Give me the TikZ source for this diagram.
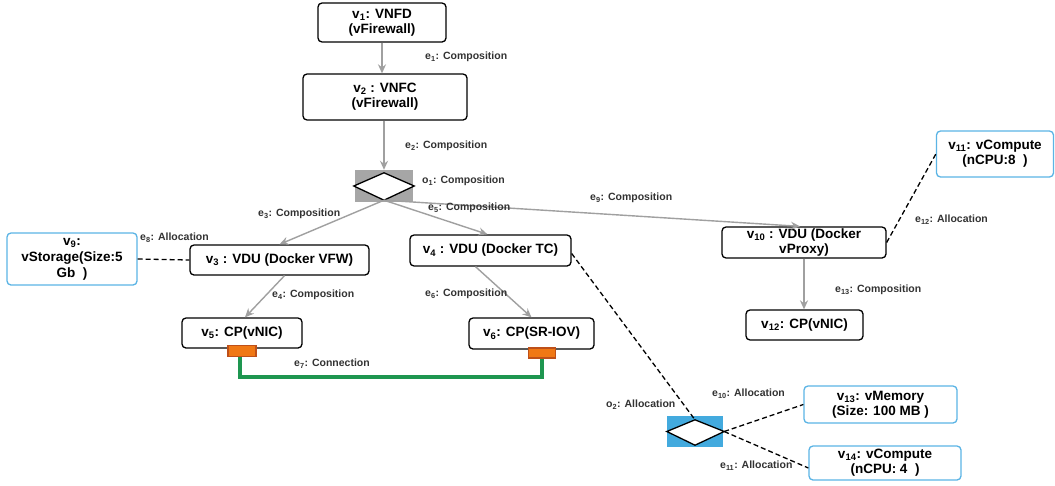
\documentclass[tikz,border=0pt]{standalone}
\usepackage{fontspec}
\setmainfont{Liberation Sans}
\usetikzlibrary{arrows.meta,calc}
\definecolor{arrgray}{RGB}{160,160,160}
\definecolor{boxblue}{RGB}{91,180,229}
\definecolor{o1gray}{RGB}{166,166,166}
\definecolor{o2blue}{RGB}{67,170,222}
\definecolor{portfill}{RGB}{240,120,20}
\definecolor{portdraw}{RGB}{190,80,25}
\definecolor{conngreen}{RGB}{30,150,80}
\newcommand{\sbs}[1]{\textsubscript{#1}}
\tikzset{
  box/.style={draw=black, line width=1.3pt, rounded corners=4pt, fill=white,
    font=\bfseries\fontsize{13.5}{15}\selectfont, align=center, inner sep=0pt},
  bluebox/.style={box, draw=boxblue},
  lbl/.style={anchor=west, inner sep=0pt, text=black!80,
    font=\bfseries\fontsize{10.5}{12}\selectfont},
  comp/.style={draw=arrgray, line width=1.4pt, -{Stealth[length=9pt,width=8pt,inset=3pt]}},
  alloc/.style={draw=black, line width=1.3pt, dash pattern=on 5pt off 3pt},
  opbox/.style={minimum width=58pt, minimum height=32pt, inner sep=0pt},
  port/.style={draw=portdraw, fill=portfill, line width=1.2pt, inner sep=0pt}
}
\begin{document}
\begin{tikzpicture}[x=1pt,y=-1pt]
\useasboundingbox[fill=white] (0,0) rectangle (1055,485);
% nodes
\node[box, minimum width=128, minimum height=39] (v1) at (382,22.5) {v\sbs{1}: VNFD\\(vFirewall)};
\node[box, minimum width=164, minimum height=46] (v2) at (385,97) {v\sbs{2} : VNFC\\(vFirewall)};
\node[opbox, fill=o1gray] (o1) at (384,186) {};
\draw[black, line width=1.3pt, fill=white] ([yshift=-3]o1.north) -- ([xshift=1]o1.east) -- ([yshift=2]o1.south) -- ([xshift=-1]o1.west) -- cycle;
\coordinate (o1b) at ([yshift=2]o1.south);
\node[box, minimum width=179, minimum height=30] (v3) at (279.5,260) {v\sbs{3} : VDU (Docker VFW)};
\node[box, minimum width=161, minimum height=31] (v4) at (490.5,250.5) {v\sbs{4} : VDU (Docker TC)};
\node[box, minimum width=120, minimum height=30] (v5) at (242,333) {v\sbs{5}: CP(vNIC)};
\node[box, minimum width=125, minimum height=31] (v6) at (531.5,333.5) {v\sbs{6}: CP(SR-IOV)};
\node[bluebox, minimum width=130, minimum height=52, font=\bfseries\fontsize{13.5}{16}\selectfont] (v9) at (72,259) {v\sbs{9}:\\vStorage(Size:5\\Gb\ \ )};
\node[box, minimum width=164, minimum height=31] (v10) at (804,242.5) {v\sbs{10} : VDU (Docker\\vProxy)};
\node[bluebox, minimum width=117, minimum height=46] (v11) at (995,154) {v\sbs{11}: vCompute\\(nCPU:8\ \ )};
\node[box, minimum width=117, minimum height=30] (v12) at (804.5,325) {v\sbs{12}: CP(vNIC)};
\node[bluebox, minimum width=153, minimum height=37] (v13) at (880.5,404.5) {v\sbs{13}: vMemory\\(Size: 100 MB )};
\node[bluebox, minimum width=152, minimum height=34] (v14) at (885,463) {v\sbs{14}: vCompute\\(nCPU: 4\ \ )};
\node[opbox, minimum width=56pt, minimum height=31pt, fill=o2blue] (o2) at (695,431.5) {};
\draw[black, line width=1.3pt, fill=white] ([yshift=-4]o2.north) -- ([xshift=1]o2.east) -- ([yshift=2]o2.south) -- (o2.west) -- cycle;
\coordinate (o2t) at ([yshift=-4]o2.north);
\coordinate (o2e) at ([xshift=1]o2.east);
% ports
\node[port, minimum width=28, minimum height=11] (p5) at (242,351) {};
\node[port, minimum width=27, minimum height=10] (p6) at (542,353) {};
% composition arrows
\draw[comp] (v1.south) -- (v1.south |- v2.north);
\draw[comp] (o1 |- v2.south) -- (o1.north);
\draw[comp] (o1b) -- (v3.north);
\draw[comp] (o1b) -- ([xshift=-3]v4.north);
\draw[comp] (o1b) -- ([xshift=-4]v10.north);
\draw[comp] ([xshift=5]v3.south) -- ([xshift=3]v5.north);
\draw[comp] ([xshift=-15]v4.south) -- (v6.north);
\draw[comp] (v10.south) -- (v10.south |- v12.north);
% allocation
\draw[alloc] (v9.east) -- (v3.west);
\draw[alloc] (v10.east) -- (v11.west);
\draw[alloc] ([yshift=-3]v4.east) -- (o2t);
\draw[alloc] (o2e) -- (v13.west);
\draw[alloc] (o2e) -- ([yshift=-5]v14.west);
% connection
\coordinate (g1) at (240,377);
\draw[conngreen, line width=3.5pt] (p5.south -| g1) -- (g1) -| (p6.south);
\node[port, minimum width=28, minimum height=11] at (p5) {};
\node[port, minimum width=27, minimum height=10] at (p6) {};
% labels
\node[lbl] (l1) at (425,57) {e\sbs{1}: Composition};
\node[lbl] (l2) at (405,146) {e\sbs{2}: Composition};
\node[lbl] (lo1) at (422,181) {o\sbs{1}: Composition};
\node[lbl] (l3) at (258,214) {e\sbs{3}: Composition};
\node[lbl] (l5) at (428,208) {e\sbs{5}: Composition};
\node[lbl] (l9) at (590,198) {e\sbs{9}: Composition};
\node[lbl] (l8) at (140,238) {e\sbs{8}: Allocation};
\node[lbl] (l4) at (272,295) {e\sbs{4}: Composition};
\node[lbl] (l6) at (425,294) {e\sbs{6}: Composition};
\node[lbl] (l7) at (294,364) {e\sbs{7}: Connection};
\node[lbl] (l12) at (915,220) {e\sbs{12}: Allocation};
\node[lbl] (l13) at (835,290) {e\sbs{13}: Composition};
\node[lbl] (lo2) at (606,405) {o\sbs{2}: Allocation};
\node[lbl] (l10) at (712,394) {e\sbs{10}: Allocation};
\node[lbl] (l11) at (720,466) {e\sbs{11}: Allocation};
\end{tikzpicture}
\end{document}
